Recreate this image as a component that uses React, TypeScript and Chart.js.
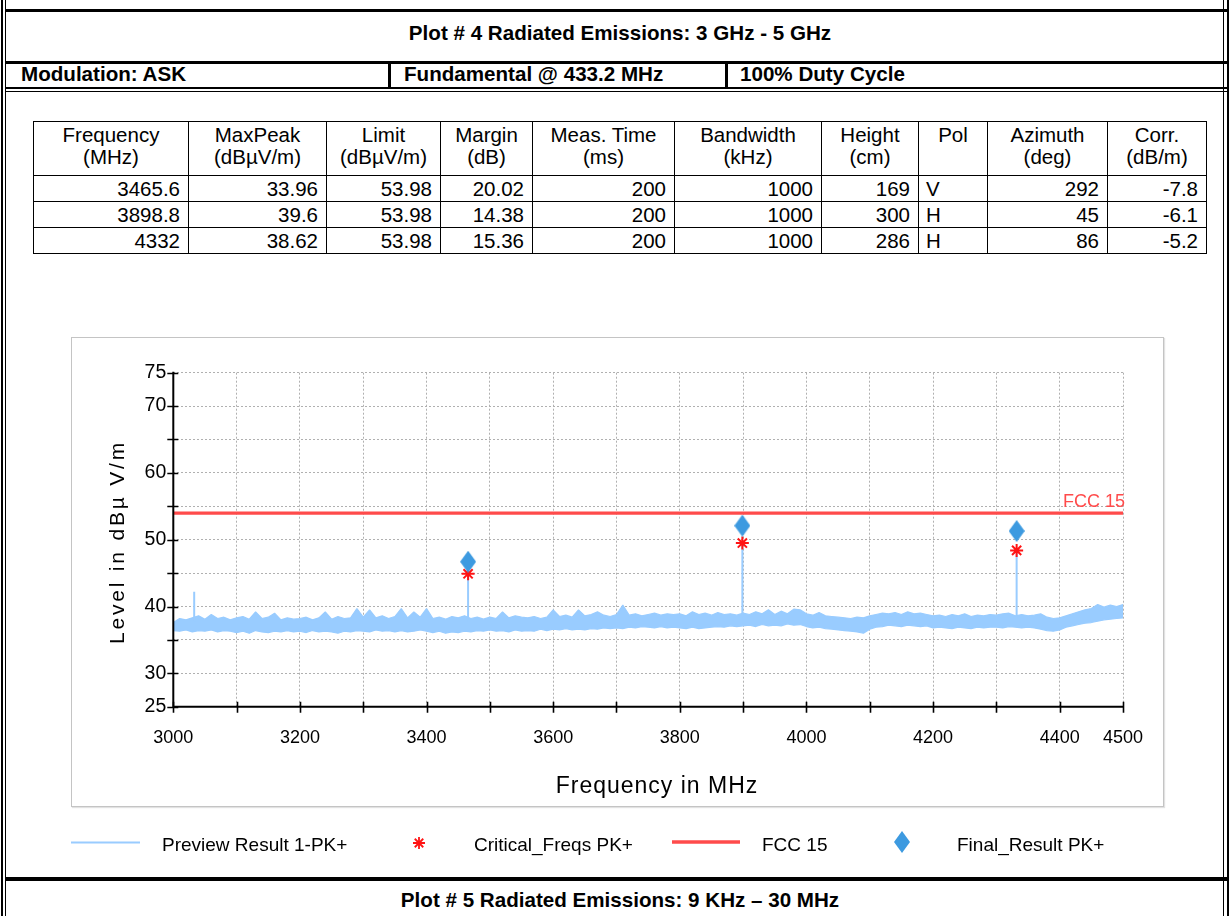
import React, { useEffect, useRef } from "react";
import { Chart, registerables } from "chart.js";

Chart.register(...registerables);

// ---------------- data ----------------
const SWEEP_START_MHZ = 3000;
const SWEEP_STEP_MHZ = 10;
// Preview Result 1-PK+ noise band (dBµV/m): upper and lower edge per 10 MHz, 3000..4500 MHz
const previewUpper = [
  37.6, 38.2, 38.0, 38.3, 38.6, 38.1, 38.8, 38.2, 38.4, 38.0,
  38.3, 38.5, 38.1, 39.2, 38.2, 38.4, 39.0, 38.0, 38.3, 38.1,
  38.2, 38.4, 38.0, 38.3, 39.2, 38.1, 38.5, 38.2, 38.3, 39.7,
  38.4, 39.5, 38.3, 38.6, 38.2, 38.5, 39.7, 38.3, 39.2, 38.4,
  39.7, 38.2, 38.4, 38.1, 38.5, 38.3, 38.6, 38.2, 38.4, 38.1,
  38.4, 38.2, 39.2, 38.3, 38.6, 38.4, 38.3, 38.5, 38.2, 38.4,
  39.5, 38.5, 38.7, 38.4, 39.5, 38.6, 38.8, 39.2, 38.7, 38.5,
  38.8, 40.2, 38.7, 38.9, 38.6, 38.8, 39.0, 38.7, 38.9, 38.8,
  38.9, 38.6, 39.2, 38.8, 39.0, 38.7, 39.1, 38.8, 38.9, 38.7,
  39.0, 38.8, 39.2, 38.9, 39.5, 38.8, 39.3, 38.9, 39.6, 39.5,
  38.9, 38.7, 39.1, 38.6, 38.5, 38.4, 38.3, 38.2, 38.4, 38.3,
  38.6, 38.8, 39.0, 38.9, 39.1, 38.8, 39.2, 38.9, 39.0, 38.8,
  38.6, 38.7, 38.5, 38.8, 38.6, 38.9, 38.5, 38.7, 38.6, 38.8,
  38.7, 38.9, 39.0, 38.6, 38.8, 38.6, 38.7, 38.9, 38.4, 38.2,
  38.3, 38.6, 38.9, 39.2, 39.5, 39.7, 40.3, 39.9, 40.2, 40.0,
  40.3,
];
const previewLower = [
  36.4, 36.3, 36.5, 36.2, 36.4, 36.3, 36.5, 36.2, 36.4, 36.3,
  36.1, 36.3, 36.0, 36.4, 36.2, 36.1, 36.3, 36.2, 36.4, 36.2,
  36.3, 36.1, 36.4, 36.2, 36.3, 36.2, 36.0, 36.3, 36.2, 36.4,
  36.3, 36.2, 36.5, 36.3, 36.4, 36.2, 36.4, 36.2, 36.3, 36.5,
  36.3, 36.1, 36.3, 36.0, 36.2, 36.1, 36.3, 36.2, 36.4, 36.3,
  36.5, 36.3, 36.4, 36.2, 36.5, 36.3, 36.4, 36.3, 36.6, 36.4,
  36.6, 36.5, 36.7, 36.5, 36.6, 36.5, 36.7, 36.6, 36.8, 36.7,
  36.8, 36.7, 36.9, 36.8, 37.0, 36.9, 36.8, 37.0, 36.8, 36.9,
  36.8, 36.7, 36.9, 36.7, 36.8, 36.9, 37.0, 36.9, 37.1, 37.0,
  37.1, 37.2, 37.0, 37.3, 37.1, 37.2, 37.1, 37.4, 37.2, 37.3,
  37.0, 36.8, 36.9, 36.7, 36.6, 36.5, 36.4, 36.3, 36.2, 36.0,
  36.6, 36.9, 37.0, 37.2, 37.1, 37.0, 37.2, 37.1, 37.0, 37.1,
  36.8, 36.9, 36.8, 36.7, 36.9, 36.8, 36.7, 36.9, 36.8, 36.9,
  36.9, 36.8, 37.0, 36.9, 36.8, 36.9, 36.8, 36.6, 36.4, 36.3,
  36.5, 36.9, 37.1, 37.3, 37.5, 37.6, 37.8, 38.0, 38.1, 38.2,
  38.3,
];
// narrow peaks of the preview trace: frequency, level at the band, level at the tip
const spikeFreqs = [3033, 3465.6, 3898.8, 4332];
const spikeBaseLevels = [37.8, 37.6, 38.4, 38.3];
const spikeTopLevels = [42.2, 44.9, 49.5, 48.4];

const criticalFreqs = [3465.6, 3898.8, 4332];
const criticalLevels = [44.9, 49.5, 48.4];

const finalFreqs = [3465.6, 3898.8, 4332];
const finalLevels = [46.7, 52.1, 51.3];

const limitFreqs = [3000, 4500];
const limitLevels = [53.98, 53.98];

const yLabelValues = [25, 30, 40, 50, 60, 70, 75];
const xLabelValues = [3000, 3200, 3400, 3600, 3800, 4000, 4200, 4400, 4500];

// table
const tableHeaders = [
  ["Frequency", "(MHz)"],
  ["MaxPeak", "(dBµV/m)"],
  ["Limit", "(dBµV/m)"],
  ["Margin", "(dB)"],
  ["Meas. Time", "(ms)"],
  ["Bandwidth", "(kHz)"],
  ["Height", "(cm)"],
  ["Pol", ""],
  ["Azimuth", "(deg)"],
  ["Corr.", "(dB/m)"],
];
const colFrequency = ["3465.6", "3898.8", "4332"];
const colMaxPeak = ["33.96", "39.6", "38.62"];
const colLimit = ["53.98", "53.98", "53.98"];
const colMargin = ["20.02", "14.38", "15.36"];
const colMeasTime = ["200", "200", "200"];
const colBandwidth = ["1000", "1000", "1000"];
const colHeight = ["169", "300", "286"];
const colPol = ["V", "H", "H"];
const colAzimuth = ["292", "45", "86"];
const colCorr = ["-7.8", "-6.1", "-5.2"];

// ---------------- styles ----------------
const FONT = '"Liberation Sans", Arial, Helvetica, sans-serif';
const PREVIEW_COLOR = "#99ccff";
const LIMIT_COLOR = "#ff4b4b";
const STAR_COLOR = "#ff1414";
const DIAMOND_COLOR = "#3d9ae0";

const COL_X = [33, 188, 326, 440, 532, 674, 821, 918, 987, 1107, 1206];
const ROW_Y = [121, 175, 201, 227, 253];

function Bar({ l, t, w, h }: { l: number; t: number; w: number; h: number }) {
  return <div style={{ position: "absolute", left: l, top: t, width: w, height: h, background: "#000" }} />;
}

function DataTable() {
  const columns = [colFrequency, colMaxPeak, colLimit, colMargin, colMeasTime, colBandwidth, colHeight, colPol, colAzimuth, colCorr];
  const cells: React.ReactNode[] = [];
  tableHeaders.forEach((hd, c) => {
    cells.push(
      <div
        key={"h" + c}
        style={{
          position: "absolute",
          left: COL_X[c],
          top: ROW_Y[0],
          width: COL_X[c + 1] - COL_X[c] + 1,
          height: ROW_Y[1] - ROW_Y[0] + 1,
          border: "1px solid #000",
          boxSizing: "border-box",
          textAlign: "center",
          paddingTop: 2,
          lineHeight: "22px",
          fontSize: 20.5,
          whiteSpace: "nowrap",
        }}
      >
        <div>{hd[0]}</div>
        <div>{hd[1]}</div>
      </div>
    );
  });
  for (let r = 0; r < 3; r++) {
    columns.forEach((col, c) => {
      const left = c === 7;
      cells.push(
        <div
          key={"d" + r + "_" + c}
          style={{
            position: "absolute",
            left: COL_X[c],
            top: ROW_Y[r + 1],
            width: COL_X[c + 1] - COL_X[c] + 1,
            height: ROW_Y[r + 2] - ROW_Y[r + 1] + 1,
            border: "1px solid #000",
            boxSizing: "border-box",
            textAlign: left ? "left" : "right",
            paddingRight: left ? 0 : 8,
            paddingLeft: left ? 7 : 0,
            lineHeight: "25px",
            fontSize: 20.5,
            whiteSpace: "nowrap",
          }}
        >
          {col[r]}
        </div>
      );
    });
  }
  return <>{cells}</>;
}

function drawStar(ctx: CanvasRenderingContext2D, x: number, y: number, r: number) {
  ctx.beginPath();
  ctx.moveTo(x - r, y);
  ctx.lineTo(x + r, y);
  ctx.moveTo(x, y - r);
  ctx.lineTo(x, y + r);
  const d = r * Math.SQRT1_2;
  ctx.moveTo(x - d, y - d);
  ctx.lineTo(x + d, y + d);
  ctx.moveTo(x - d, y + d);
  ctx.lineTo(x + d, y - d);
  ctx.stroke();
}

function EmissionChart() {
  const ref = useRef<HTMLCanvasElement>(null);
  useEffect(() => {
    const canvas = ref.current!;
    const diamond = document.createElement("canvas");
    diamond.width = 16;
    diamond.height = 22;
    const dctx = diamond.getContext("2d")!;
    dctx.fillStyle = DIAMOND_COLOR;
    dctx.beginPath();
    dctx.moveTo(8, 0);
    dctx.lineTo(16, 11);
    dctx.lineTo(8, 22);
    dctx.lineTo(0, 11);
    dctx.closePath();
    dctx.fill();

    const upperData = previewUpper.map((y, i) => ({ x: SWEEP_START_MHZ + i * SWEEP_STEP_MHZ, y }));
    const lowerData = previewLower.map((y, i) => ({ x: SWEEP_START_MHZ + i * SWEEP_STEP_MHZ, y }));
    const spikeData: any[] = [];
    spikeFreqs.forEach((f, i) => {
      spikeData.push({ x: f, y: spikeBaseLevels[i] }, { x: f, y: spikeTopLevels[i] }, { x: f, y: null });
    });

    const decor = {
      id: "decor",
      afterDraw(chart: any) {
        const { ctx, chartArea: ca, scales } = chart;
        const xs = scales.x;
        const ys = scales.y;
        ctx.save();
        // axes
        ctx.strokeStyle = "#000";
        ctx.lineWidth = 2;
        ctx.beginPath();
        ctx.moveTo(ca.left, ca.top - 1);
        ctx.lineTo(ca.left, ca.bottom);
        ctx.lineTo(ca.right + 1, ca.bottom);
        ctx.stroke();
        // crossing tick marks
        ctx.lineWidth = 1.6;
        ctx.beginPath();
        for (const t of ys.ticks) {
          const py = Math.round(ys.getPixelForValue(t.value)) + 0.5;
          ctx.moveTo(ca.left - 6, py);
          ctx.lineTo(ca.left + 5, py);
        }
        for (const t of xs.ticks) {
          const px = Math.round(xs.getPixelForValue(t.value)) + 0.5;
          ctx.moveTo(px, ca.bottom - 5);
          ctx.lineTo(px, ca.bottom + 6);
        }
        ctx.stroke();

        // limit label
        ctx.fillStyle = LIMIT_COLOR;
        ctx.font = `18px ${FONT}`;
        ctx.textAlign = "right";
        ctx.textBaseline = "alphabetic";
        ctx.fillText("FCC 15", ca.right + 2, ys.getPixelForValue(limitLevels[1]) - 6);

        // axis titles
        ctx.fillStyle = "#000";
        ctx.textAlign = "center";
        ctx.textBaseline = "middle";
        ctx.save();
        ctx.translate(118, 212);
        ctx.rotate(-Math.PI / 2);
        ctx.font = `21px ${FONT}`;
        (ctx as any).letterSpacing = "2.8px";
        ctx.fillText("Level in dBµ V/m", 0, 0);
        ctx.restore();
        ctx.save();
        ctx.font = `23px ${FONT}`;
        (ctx as any).letterSpacing = "1px";
        ctx.fillText("Frequency in MHz", 657, 457);
        ctx.restore();

        // legend
        const ly = 512;
        ctx.font = `19px ${FONT}`;
        ctx.textAlign = "left";
        ctx.textBaseline = "middle";
        ctx.strokeStyle = PREVIEW_COLOR;
        ctx.lineWidth = 2;
        ctx.beginPath();
        ctx.moveTo(71, ly + 0.5);
        ctx.lineTo(140, ly + 0.5);
        ctx.stroke();
        ctx.fillStyle = "#000";
        ctx.fillText("Preview Result 1-PK+", 162, ly + 4);

        ctx.strokeStyle = STAR_COLOR;
        ctx.lineWidth = 1.8;
        drawStar(ctx, 419, ly + 1, 6);
        ctx.fillText("Critical_Freqs PK+", 474, ly + 4);

        ctx.strokeStyle = LIMIT_COLOR;
        ctx.lineWidth = 3.3;
        ctx.beginPath();
        ctx.moveTo(672, ly);
        ctx.lineTo(740, ly);
        ctx.stroke();
        ctx.fillText("FCC 15", 762, ly + 4);

        ctx.drawImage(diamond, 902 - 8, ly - 11);
        ctx.fillText("Final_Result PK+", 957, ly + 4);
        ctx.restore();
      },
    };

    const gridCommon = { color: "#b0b0b0", lineWidth: 1, drawTicks: false };

    const chart = new Chart(canvas, {
      type: "line",
      data: {
        datasets: [
          {
            label: "Final_Result PK+",
            data: finalFreqs.map((x, i) => ({ x, y: finalLevels[i] })),
            showLine: false,
            pointStyle: diamond as any,
            pointRadius: 8,
            order: 0,
          },
          {
            label: "Critical_Freqs PK+",
            data: criticalFreqs.map((x, i) => ({ x, y: criticalLevels[i] })),
            showLine: false,
            pointStyle: "star",
            pointRadius: 6.5,
            pointBorderWidth: 2,
            pointBorderColor: STAR_COLOR,
            pointBackgroundColor: STAR_COLOR,
            borderColor: STAR_COLOR,
            order: 1,
          },
          {
            label: "FCC 15",
            data: limitFreqs.map((x, i) => ({ x, y: limitLevels[i] })),
            borderColor: LIMIT_COLOR,
            borderWidth: 3.3,
            pointRadius: 0,
            order: 2,
          },
          {
            label: "Preview spikes",
            data: spikeData,
            borderColor: PREVIEW_COLOR,
            borderWidth: 2,
            pointRadius: 0,
            spanGaps: false,
            order: 3,
          },
          {
            label: "Preview Result 1-PK+",
            data: upperData,
            borderColor: PREVIEW_COLOR,
            backgroundColor: PREVIEW_COLOR,
            borderWidth: 1.2,
            borderJoinStyle: "bevel",
            pointRadius: 0,
            tension: 0,
            fill: "+1",
            order: 4,
          },
          {
            label: "Preview lower",
            data: lowerData,
            borderColor: PREVIEW_COLOR,
            borderWidth: 1.2,
            borderJoinStyle: "bevel",
            pointRadius: 0,
            tension: 0,
            fill: false,
            order: 5,
          },
        ] as any,
      },
      options: {
        animation: false,
        responsive: false,
        events: [],
        layout: { padding: { left: 0, top: 42.7, right: 108, bottom: 0 } },
        plugins: { legend: { display: false }, tooltip: { enabled: false }, filler: { propagate: false } },
        scales: {
          x: {
            type: "linear",
            min: 3000,
            max: 4500,
            afterFit: (s: any) => {
              s.height = 163.3;
            },
            ticks: {
              stepSize: 100,
              autoSkip: false,
              maxRotation: 0,
              padding: 21,
              color: "#000",
              font: { family: FONT, size: 18 },
              callback: (v: any) => (xLabelValues.includes(Number(v)) ? String(v) : ""),
            },
            grid: gridCommon,
            border: { display: false, dash: [2, 2] },
          },
          y: {
            type: "linear",
            min: 25,
            max: 75,
            afterFit: (s: any) => {
              s.width = 173.3;
            },
            ticks: {
              stepSize: 5,
              padding: 7,
              color: "#000",
              font: { family: FONT, size: 19.5 },
              callback: (v: any) => (yLabelValues.includes(Number(v)) ? String(v) : ""),
            },
            grid: gridCommon,
            border: { display: false, dash: [2, 2] },
          },
        },
      } as any,
      plugins: [decor],
    });
    return () => chart.destroy();
  }, []);
  return (
    <canvas
      ref={ref}
      width={1231}
      height={540}
      style={{ position: "absolute", left: 0, top: 330, width: 1231, height: 540 }}
    />
  );
}

export default function App() {
  return (
    <div
      style={{
        position: "absolute",
        left: 0,
        top: 0,
        width: 1231,
        height: 916,
        background: "#fff",
        fontFamily: FONT,
        color: "#000",
        overflow: "hidden",
      }}
    >
      {/* frame */}
      <Bar l={1} t={0} w={2} h={916} />
      <Bar l={5} t={0} w={1} h={916} />
      <Bar l={1223} t={0} w={1} h={916} />
      <Bar l={1227} t={0} w={2} h={916} />
      <Bar l={5} t={9} w={1222} h={3} />
      <Bar l={5} t={61} w={1222} h={3} />
      <Bar l={388} t={64} w={3} h={23} />
      <Bar l={725} t={64} w={3} h={23} />
      <Bar l={5} t={87} w={1222} h={2} />
      <Bar l={5} t={91} w={1222} h={1} />
      <Bar l={5} t={877} w={1222} h={4} />

      <div
        style={{
          position: "absolute",
          left: 0,
          top: 8,
          width: 1240,
          height: 49,
          display: "flex",
          alignItems: "center",
          justifyContent: "center",
          fontWeight: "bold",
          fontSize: 20.6,
          whiteSpace: "nowrap",
        }}
      >
        Plot # 4 Radiated Emissions: 3 GHz - 5 GHz
      </div>
      <div style={{ position: "absolute", left: 21, top: 62, lineHeight: "23px", fontWeight: "bold", fontSize: 20.6, whiteSpace: "nowrap" }}>
        Modulation: ASK
      </div>
      <div style={{ position: "absolute", left: 404, top: 62, lineHeight: "23px", fontWeight: "bold", fontSize: 20.6, whiteSpace: "nowrap" }}>
        Fundamental @ 433.2 MHz
      </div>
      <div style={{ position: "absolute", left: 740, top: 62, lineHeight: "23px", fontWeight: "bold", fontSize: 20.6, whiteSpace: "nowrap" }}>
        100% Duty Cycle
      </div>

      <DataTable />

      {/* chart panel */}
      <div
        style={{
          position: "absolute",
          left: 71,
          top: 337,
          width: 1093,
          height: 470,
          border: "1px solid #c4c4c4",
          boxSizing: "border-box",
          boxShadow: "1px 1px 1px #e2e2e2",
        }}
      />
      <EmissionChart />

      <div
        style={{
          position: "absolute",
          left: 0,
          top: 882,
          width: 1240,
          height: 35,
          display: "flex",
          alignItems: "center",
          justifyContent: "center",
          fontWeight: "bold",
          fontSize: 20.6,
          whiteSpace: "nowrap",
        }}
      >
        Plot # 5 Radiated Emissions: 9 KHz – 30 MHz
      </div>
    </div>
  );
}
